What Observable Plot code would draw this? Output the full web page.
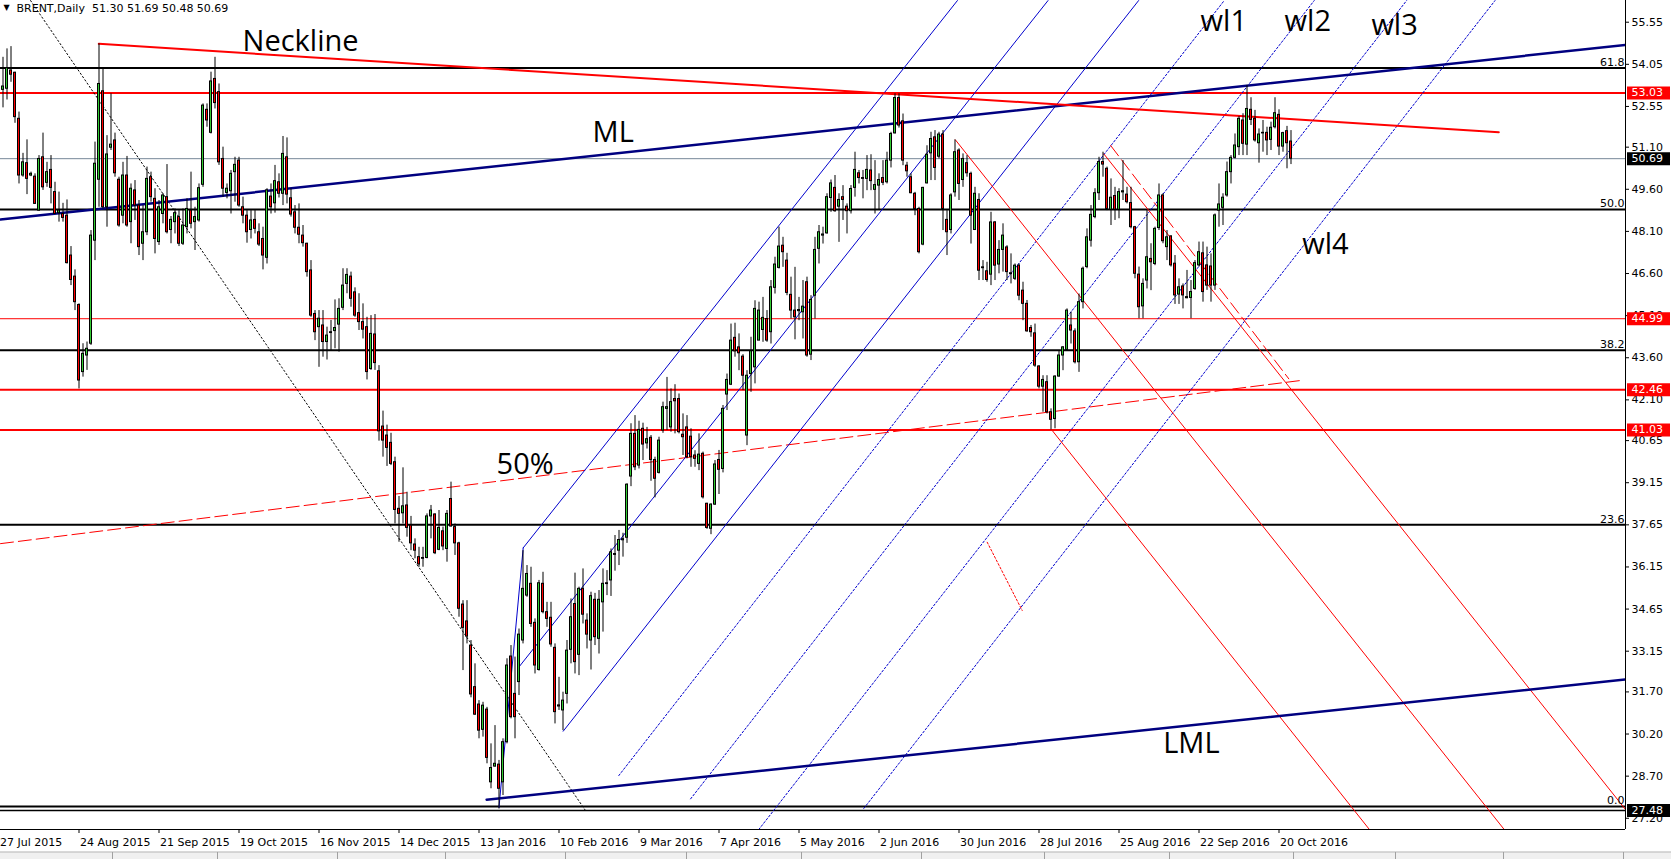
<!DOCTYPE html>
<html><head><meta charset="utf-8">
<script src="https://cdn.jsdelivr.net/npm/d3@7"></script>
<script src="https://cdn.jsdelivr.net/npm/@observablehq/plot@0.6"></script>
<style>
html,body{margin:0;padding:0;background:#fff;}
#chart{width:1671px;height:859px;overflow:hidden;}
</style></head><body><div id="chart"></div>
<script>
// ---------------- DATA ----------------
const symbol = "BRENT,Daily";
const firstBar = 1; // bar index of first candle (bar 0 = 27 Jul 2015)
const opens = [
53.14,53.18,53.83,53.75,52.11,50.09,50.53,50.09,50.05,48.84,
50.74,49.83,50.29,49.50,48.75,48.72,48.66,47.24,46.49,45.48,
43.09,43.68,44.10,47.77,49.94,53.09,48.96,51.08,51.34,49.94,
48.66,50.09,48.43,49.56,49.02,47.66,48.07,50.03,49.26,47.72,
48.72,49.32,48.15,48.43,48.61,47.66,48.25,48.84,48.43,48.49,
49.76,52.43,51.61,53.53,53.06,50.68,49.47,49.53,50.21,50.62,
48.96,48.66,48.15,48.51,48.07,47.83,47.16,49.34,49.10,49.85,
49.44,50.74,49.28,48.78,48.23,47.95,47.66,46.71,45.16,44.69,
44.75,44.16,44.48,44.55,44.78,45.38,46.23,46.49,45.93,45.19,
44.87,44.69,43.20,44.43,43.12,41.15,40.83,40.57,39.88,38.22,
38.06,38.34,37.62,36.95,36.50,36.44,36.47,37.95,38.02,36.76,
37.42,36.79,38.57,37.57,36.99,34.81,34.21,33.35,31.87,31.25,
30.35,31.07,28.48,29.04,29.11,28.48,29.91,32.96,31.63,32.05,
33.53,35.13,35.55,34.16,32.48,35.55,34.54,34.34,33.27,31.22,
31.04,31.63,33.20,34.83,33.02,35.37,34.24,33.53,34.98,33.59,
34.89,35.54,35.67,36.58,36.73,37.10,37.19,39.37,40.89,39.76,
41.07,40.55,40.75,39.96,39.50,41.01,41.78,41.12,42.13,42.13,
40.86,41.12,40.79,40.12,39.82,40.18,38.40,37.51,38.37,39.96,
39.64,42.29,42.64,44.31,43.97,43.64,40.83,43.02,43.26,44.21,
44.59,44.98,44.51,46.09,46.80,47.59,47.06,45.84,45.28,45.26,
45.22,46.29,43.71,45.81,47.48,47.95,48.03,49.29,49.65,48.98,
49.32,48.98,48.82,49.65,50.17,49.97,49.97,50.27,49.58,49.73,
50.00,49.85,50.62,51.59,52.85,52.02,50.44,50.03,49.44,48.90,
47.63,49.81,50.88,51.45,50.76,51.55,48.51,48.15,49.49,50.98,
49.93,50.53,50.15,48.15,49.22,46.79,46.68,46.56,48.42,46.92,
47.44,47.53,46.58,46.41,46.88,45.99,45.52,44.66,44.47,43.29,
42.57,42.73,41.66,41.42,42.93,43.68,43.88,44.75,44.54,43.44,
45.58,46.83,47.77,48.61,49.46,50.57,50.33,48.87,49.36,48.87,
49.49,49.41,49.11,48.25,46.56,45.43,46.35,47.12,46.94,48.22,
49.38,47.54,47.92,46.95,45.85,46.14,45.72,45.73,46.05,46.89,
47.32,46.89,46.85,46.17,48.84,48.94,49.38,50.21,50.72,51.10,
52.05,51.19,52.43,52.11,51.24,51.59,51.61,51.36,51.81,52.25,
51.12,51.67,51.30];
const highs = [
54.30,54.60,54.68,53.77,52.35,50.88,51.36,50.21,50.15,50.80,
51.60,50.56,50.80,49.85,49.50,49.10,49.22,47.56,46.73,45.52,
44.10,44.16,48.13,51.28,54.78,53.89,51.51,53.00,51.60,50.03,
50.56,50.77,49.79,49.91,49.20,49.02,50.39,50.21,49.62,49.20,
49.44,50.48,48.63,48.90,48.84,48.90,49.26,50.21,48.96,49.79,
52.64,52.64,53.77,54.30,53.35,51.10,49.79,50.27,50.74,50.74,
49.32,48.84,48.84,48.84,48.37,48.25,49.62,49.79,50.45,50.15,
51.48,51.43,49.62,49.02,49.08,48.31,47.68,47.06,45.28,45.28,
45.28,44.69,44.93,45.66,45.70,46.77,46.77,46.65,46.09,45.88,
45.52,45.04,45.10,45.14,43.32,41.70,41.20,40.91,40.06,38.66,
39.68,38.81,37.95,37.15,36.85,36.85,38.04,38.34,38.04,38.16,
37.57,38.16,39.17,37.68,37.03,34.95,34.95,33.53,32.70,31.39,
31.33,31.15,29.85,30.50,29.26,30.03,32.88,33.35,32.94,33.94,
36.73,36.20,36.14,34.30,35.67,35.96,34.89,34.89,33.41,32.22,
31.69,33.53,35.01,35.93,35.43,36.08,34.48,35.25,35.21,35.31,
36.08,36.02,36.79,37.27,37.45,37.35,39.11,41.25,41.54,41.34,
41.27,41.12,40.83,40.06,40.77,42.02,42.90,42.49,42.64,42.31,
41.60,41.54,41.07,40.29,40.89,40.24,38.42,38.40,39.94,40.30,
41.90,43.02,44.80,44.83,44.45,43.71,43.14,44.33,45.63,45.58,
45.75,45.28,46.35,47.18,48.25,47.89,47.32,46.47,46.82,45.75,
46.35,46.47,45.81,47.89,48.31,48.25,49.44,49.93,50.09,49.44,
49.73,49.08,49.73,50.92,50.27,50.27,50.80,50.83,50.62,50.15,
50.62,50.92,51.63,53.00,53.00,52.28,50.56,50.15,49.49,48.96,
49.67,51.15,51.63,51.69,51.63,51.69,48.84,49.44,51.36,51.04,
50.86,50.80,50.21,49.67,49.44,47.06,47.00,48.78,48.45,47.77,
48.37,47.59,47.30,46.94,46.94,46.29,45.64,44.75,44.80,43.32,
42.96,42.96,41.78,42.96,43.85,44.00,45.34,45.22,44.63,45.87,
46.83,48.19,49.02,49.62,50.74,50.92,50.39,49.97,49.67,49.62,
50.62,49.67,49.67,48.28,46.83,46.41,48.84,47.66,48.25,49.79,
49.44,48.13,47.95,47.24,46.41,46.23,46.71,46.35,47.06,47.72,
47.72,47.54,47.30,48.72,49.79,49.44,50.57,50.80,51.57,52.19,
52.29,53.30,52.86,52.41,51.75,52.05,51.81,51.99,52.86,52.43,
51.63,51.84,51.69];
const lows = [
52.50,52.78,53.41,51.95,49.79,50.03,49.41,50.05,49.06,48.82,
49.56,49.67,49.08,48.70,48.43,48.43,46.94,46.17,45.28,42.49,
42.91,43.15,44.04,47.06,48.96,48.90,48.25,50.98,50.03,48.25,
48.37,48.25,47.66,48.49,47.24,47.06,47.95,49.14,47.30,47.60,
48.37,48.01,47.66,48.01,47.56,47.60,48.01,48.19,47.42,48.43,
49.67,51.81,51.57,52.46,50.45,49.32,49.26,48.72,49.14,48.96,
48.37,47.68,47.83,48.01,47.56,46.73,46.94,48.72,48.75,49.29,
49.02,49.08,48.61,48.01,47.66,47.54,46.47,45.04,44.21,43.26,
43.62,43.52,43.86,43.92,43.80,45.28,45.88,45.40,45.04,44.57,
44.27,42.81,43.15,43.15,40.63,40.06,39.73,39.76,37.68,37.03,
37.68,37.21,36.73,36.44,36.14,36.14,36.44,37.15,36.59,36.73,
36.73,36.32,37.57,36.56,34.36,32.46,33.41,31.49,30.86,30.03,
30.09,29.14,28.25,29.02,27.53,28.01,29.85,30.74,30.03,31.57,
33.41,35.07,34.00,32.34,32.44,34.48,34.00,33.29,30.56,31.04,
30.32,31.27,32.70,32.34,32.28,34.12,33.23,32.48,33.35,33.05,
33.83,35.13,35.10,36.00,36.20,36.50,36.99,39.01,39.58,39.64,
39.94,40.35,39.20,38.61,39.46,40.91,41.01,40.95,40.89,40.89,
40.12,40.00,39.70,39.70,39.58,38.57,37.49,37.30,38.34,38.73,
39.50,41.72,42.61,43.62,43.14,42.43,40.47,42.37,42.67,44.21,
44.15,44.15,44.09,45.87,46.76,46.82,45.81,44.98,44.24,44.92,
44.27,43.62,43.50,44.98,46.94,47.65,48.00,48.78,48.78,47.71,
48.49,48.01,48.72,49.32,49.79,49.26,49.55,49.55,48.72,48.86,
49.73,49.79,50.36,51.57,51.78,50.44,50.03,49.44,48.66,47.30,
47.59,49.79,49.91,49.91,50.68,48.13,47.24,48.01,49.32,49.20,
49.67,50.03,47.65,48.13,46.35,46.35,46.29,46.17,46.35,46.59,
46.65,46.35,46.23,46.35,45.63,44.92,44.51,44.33,43.26,42.49,
41.66,41.60,41.03,41.07,42.91,43.14,43.85,44.09,43.38,43.08,
45.34,46.77,47.54,48.55,49.20,50.03,48.84,48.31,48.49,48.55,
49.20,49.08,48.19,46.41,44.99,44.99,46.05,45.99,46.88,48.13,
47.66,47.06,46.83,45.50,45.50,45.34,45.70,44.99,46.00,46.83,
45.58,46.00,45.58,46.00,48.25,48.31,49.32,49.79,50.68,50.80,
50.80,50.80,51.87,51.28,50.53,50.92,50.80,50.98,51.75,50.80,
50.92,50.33,50.48];
const closes = [
53.26,53.91,53.68,52.17,50.09,50.56,49.97,50.15,49.08,50.68,
49.67,50.21,49.65,48.72,48.84,48.58,46.97,46.37,45.58,42.79,
43.74,43.92,47.95,50.51,53.35,48.96,50.84,51.19,50.17,48.31,
50.09,48.31,49.62,49.02,47.54,48.07,49.97,49.32,47.83,48.96,
49.38,48.07,48.51,48.75,47.66,48.31,48.90,48.37,48.61,49.64,
52.58,52.05,53.44,52.67,50.56,49.62,49.62,50.15,50.47,49.02,
48.66,48.07,48.49,48.19,47.63,47.24,49.56,48.96,49.89,49.44,
50.86,49.41,48.70,48.23,47.98,47.68,46.65,45.10,44.51,44.99,
44.16,44.39,44.51,44.66,45.34,46.17,46.55,45.70,45.10,44.87,
44.60,43.09,44.45,43.41,40.98,40.65,40.39,39.82,38.18,38.04,
38.31,37.54,36.99,36.73,36.24,36.47,37.95,38.16,36.64,37.54,
36.88,38.04,37.59,36.99,34.66,33.98,33.67,31.61,30.89,30.32,
31.21,29.35,28.99,29.14,28.25,29.91,32.64,30.80,30.80,33.74,
35.37,35.90,34.12,32.64,35.57,34.54,34.30,33.39,30.98,31.18,
31.39,33.17,34.36,32.76,35.37,34.45,33.74,35.11,33.65,34.98,
35.55,35.57,36.67,36.61,37.11,37.14,39.08,40.89,39.70,41.03,
40.51,40.70,39.96,39.29,40.65,41.84,41.84,42.02,42.05,40.95,
40.77,40.06,40.06,40.00,40.15,38.63,37.54,38.37,39.80,39.61,
41.78,42.81,44.21,43.83,43.76,42.96,42.96,43.83,45.34,45.28,
45.02,44.21,46.11,46.92,47.56,47.36,45.91,45.28,45.04,45.30,
45.42,43.68,45.66,47.44,48.07,47.99,49.32,49.81,48.82,49.22,
49.22,48.82,49.61,50.29,50.00,50.00,50.29,49.89,49.75,49.93,
49.83,50.62,51.57,52.85,51.87,50.62,50.24,49.46,48.90,47.36,
49.65,50.83,51.39,50.36,51.55,48.90,48.07,49.38,50.92,49.79,
50.68,50.17,48.66,49.44,46.70,46.82,46.37,48.42,46.88,47.44,
47.95,46.65,46.61,46.88,45.81,45.52,44.54,44.51,43.32,42.57,
42.81,41.66,41.39,42.93,43.68,43.97,45.28,44.57,43.44,45.58,
46.77,47.89,48.69,49.46,50.57,50.48,48.90,49.30,48.87,49.50,
49.53,49.14,48.25,46.59,45.40,46.23,47.18,47.00,48.19,49.38,
47.75,47.89,46.89,45.82,46.11,45.82,45.76,45.94,46.97,47.36,
45.94,46.17,46.17,48.67,49.06,49.30,50.21,50.72,51.16,52.11,
51.22,52.46,52.07,51.34,51.55,51.61,51.34,51.79,52.31,51.12,
51.60,51.24,50.69];

const dateTickBars = [0,20,40,60,80,100,120,140,160,180,200,220,240,260,280,300,320];
const dateTickLabels = ["27 Jul 2015","24 Aug 2015","21 Sep 2015","19 Oct 2015","16 Nov 2015","14 Dec 2015",
  "13 Jan 2016","10 Feb 2016","9 Mar 2016","7 Apr 2016","5 May 2016","2 Jun 2016","30 Jun 2016",
  "28 Jul 2016","25 Aug 2016","22 Sep 2016","20 Oct 2016"];
const priceTicks = [55.55,54.05,52.55,51.10,49.60,48.10,46.60,45.10,43.60,42.10,40.65,39.15,37.65,36.15,34.65,33.15,31.70,30.20,28.70,27.20];

const fibLevels = [53.92, 48.88, 43.87, 37.65, 27.62];
const fibLabels = ["61.8", "50.0", "38.2", "23.6", "0.0"];
const redLevels = [53.03, 44.99, 42.46, 41.03];
const lastPrice = 50.69;
const lowPrice = 27.48;

// trend lines: [bar, price] anchor pairs
const neckline   = [[24.95, 54.78], [374.95, 51.63]];
const medianLine = [[0.375, 48.52], [406.6, 54.74]];
const lowerMedian= [[121.9, 27.86], [406.6, 32.14]];
const halfLine   = [[0.375, 36.98], [325.4, 42.79]];
const downTrend  = [[7.9, 56.32], [146.6, 27.48]];
const handle     = [[125.0, 27.59], [131.05, 36.83]];
const chanA      = [[131.05, 36.83], [239.6, 56.32]];
const chanB      = [[129.95, 32.58], [262.25, 56.32]];
const chanC      = [[141.05, 30.30], [284.9, 56.32]];
const wl1 = [[154.95, 28.72], [306.3, 56.32]];
const wl2 = [[172.9, 27.89], [328.8, 56.32]];
const wl3 = [[189.95, 26.80], [351.9, 56.32]];
const wl4 = [[216.2, 27.55], [374.0, 56.32]];
const redR1 = [[239.1, 51.36], [376.3, 26.80]];
const redR0 = [[263.3, 41.01], [342.6, 26.80]];
const redR2 = [[276.2, 50.86], [410.6, 26.80]];
const redR2dash = [[277.9, 51.16], [322.45, 42.85]];
const redShort = [[247.05, 37.03], [255.8, 34.60]];

const annotTexts = ["Neckline", "ML", "50%", "LML", "wl1", "wl2", "wl3", "wl4"];
const annotBars  = [60.9, 148.4, 124.4, 291.05, 300.4, 321.4, 343.1, 325.8];
const annotPrices= [54.54, 51.28, 39.47, 29.52, 55.23, 55.23, 55.08, 47.28];

// ---------------- LAYOUT ----------------
const W = 1671, H = 859, PW = 1625, PH = 829;
const px2i = x => (x + 1.5) / 4;           // 4 px per bar
const X0 = px2i(0), X1 = px2i(PW);
const Y_TOP = 56.323, Y_BOT = 26.80;
const pxY = y => Y_TOP - y * (Y_TOP - Y_BOT) / PH;
const SMALL = "DejaVu Sans, Tahoma, sans-serif";
const BIG = "Open Sans, sans-serif";

const candles = opens.map((o, k) => ({i: firstBar + k, o, h: highs[k], l: lows[k], c: closes[k]}));
const labelMap = new Map(dateTickBars.map((b, k) => [b, dateTickLabels[k]]));
const last = candles[candles.length - 1];
const header = `${symbol}\u00a0\u00a0${last.o.toFixed(2)} ${last.h.toFixed(2)} ${last.l.toFixed(2)} ${last.c.toFixed(2)}`;
const annots = annotTexts.map((t, k) => ({t, x: annotBars[k], y: annotPrices[k]}));

const line = (pts, stroke, strokeWidth, dash) => Plot.line(pts, {x: d => d[0], y: d => d[1], stroke, strokeWidth, strokeDasharray: dash, clip: true});

const priceBoxes = [
  ...redLevels.map(v => ({v, bg: "#ff0000"})),
  {v: lastPrice, bg: "#000000"},
  {v: lowPrice, bg: "#000000"}
];

const chart = Plot.plot({
  width: W, height: H,
  marginTop: 0, marginLeft: 0, marginRight: W - PW, marginBottom: H - PH,
  x: {type: "linear", domain: [X0, X1], axis: null},
  y: {type: "linear", domain: [Y_BOT, Y_TOP], axis: null},
  style: {background: "#fff", overflow: "visible", fontFamily: SMALL},
  marks: [
    // horizontal levels
    Plot.ruleY(fibLevels, {y: d => d, stroke: "#000", strokeWidth: 2}),
    Plot.ruleY([lowPrice], {y: d => d, stroke: "#000", strokeWidth: 1.5}),
    Plot.ruleY(redLevels, {y: d => d, stroke: "#ff0000", strokeWidth: d => d === 44.99 ? 1 : 2}),
    Plot.ruleY([lastPrice], {y: d => d, stroke: "#778899", strokeWidth: 1}),
    // trend lines
    line(downTrend, "#000", 1, "1.5,2.5"),
    line(halfLine, "#ff0000", 1, "13,5"),
    line(handle, "#0000cd", 1),
    line(chanA, "#0000cd", 1),
    line(chanB, "#0000cd", 1),
    line(chanC, "#0000cd", 1),
    line(wl1, "#0000cd", 1, "2,2"),
    line(wl2, "#0000cd", 1, "2,2"),
    line(wl3, "#0000cd", 1, "2,2"),
    line(wl4, "#0000cd", 1, "2,2"),
    line(redR1, "#ff0000", 1),
    line(redR0, "#ff0000", 1),
    line(redR2, "#ff0000", 1),
    line(redR2dash, "#ff0000", 1, "13,5"),
    line(redShort, "#ff0000", 1, "2,2"),
    line(medianLine, "#000080", 2.5),
    line(lowerMedian, "#000080", 2.5),
    line(neckline, "#ff0000", 2),
    // candles (chart in foreground)
    Plot.ruleX(candles, {x: "i", y1: "l", y2: "h", stroke: "#000", strokeWidth: 1}),
    Plot.rect(candles, {x1: d => d.i - 0.375, x2: d => d.i + 0.375, y1: "o", y2: "c", fill: "#000", insetTop: -0.5, insetBottom: -0.5}),
    Plot.rect(candles, {x1: d => d.i - 0.375, x2: d => d.i + 0.375, y1: "o", y2: "c",
      fill: d => d.c >= d.o ? "#33cc33" : "#ff0000", insetLeft: 1, insetRight: 1, insetTop: 0.5, insetBottom: 0.5}),
    // annotations
    Plot.text(annots, {x: "x", y: "y", text: "t", textAnchor: "start", lineAnchor: "bottom", fontSize: 29, fontFamily: BIG, fill: "#000"}),
    Plot.text(fibLevels, {x: X1, y: d => d, text: d => fibLabels[fibLevels.indexOf(d)], textAnchor: "end", lineAnchor: "bottom", dx: -1, dy: -2, fontSize: 11, fill: "#000"}),
    // header
    Plot.text(["\u25BC"], {x: px2i(6), y: pxY(7), text: d => d, fontSize: 8, fill: "#000"}),
    Plot.text([header], {x: px2i(16), y: pxY(7.5), text: d => d, textAnchor: "start", fontSize: 11, fill: "#000"}),
    // frame
    Plot.ruleX([X1], {x: d => d, stroke: "#000", strokeWidth: 1}),
    Plot.ruleY([Y_BOT], {y: d => d, x1: X0, x2: X1, stroke: "#000", strokeWidth: 1}),
    // bottom axis
    Plot.ruleX(dateTickBars, {x: d => d, y1: pxY(PH), y2: pxY(PH + 4), stroke: "#000"}),
    Plot.text(dateTickBars, {x: d => d, y: pxY(845.5), text: d => labelMap.get(d), textAnchor: "start", lineAnchor: "bottom", dx: 1, fontSize: 11, fill: "#000"}),
    // right axis
    Plot.ruleY(priceTicks, {y: d => d, x1: X1, x2: px2i(PW + 4), stroke: "#000"}),
    Plot.text(priceTicks, {x: X1, y: d => d, text: d => d.toFixed(2), textAnchor: "start", dx: 6, fontSize: 11, fill: "#000"}),
    // price boxes
    Plot.ruleY(priceBoxes, {y: "v", x1: px2i(PW + 2), x2: px2i(W - 1), stroke: "bg", strokeWidth: 13}),
    Plot.text(priceBoxes, {x: X1, y: "v", text: d => d.v.toFixed(2), textAnchor: "start", dx: 6, fontSize: 11, fill: "#fff"}),
    // window tabs strip
    Plot.ruleY([pxY(855.5)], {y: d => d, x1: px2i(0), x2: px2i(W), stroke: "#f0f0f0", strokeWidth: 7}),
    Plot.ruleY([pxY(851.5)], {y: d => d, x1: px2i(0), x2: px2i(W), stroke: "#b0b0b0", strokeWidth: 1}),
    Plot.ruleX([112,217,337,445,565,686,801,921,1044,1169,1293,1395,1503,1623].map(px2i), {x: d => d, y1: pxY(852), y2: pxY(859), stroke: "#a0a0a0"})
  ]
});
document.getElementById("chart").appendChild(chart);
</script>
</body></html>
